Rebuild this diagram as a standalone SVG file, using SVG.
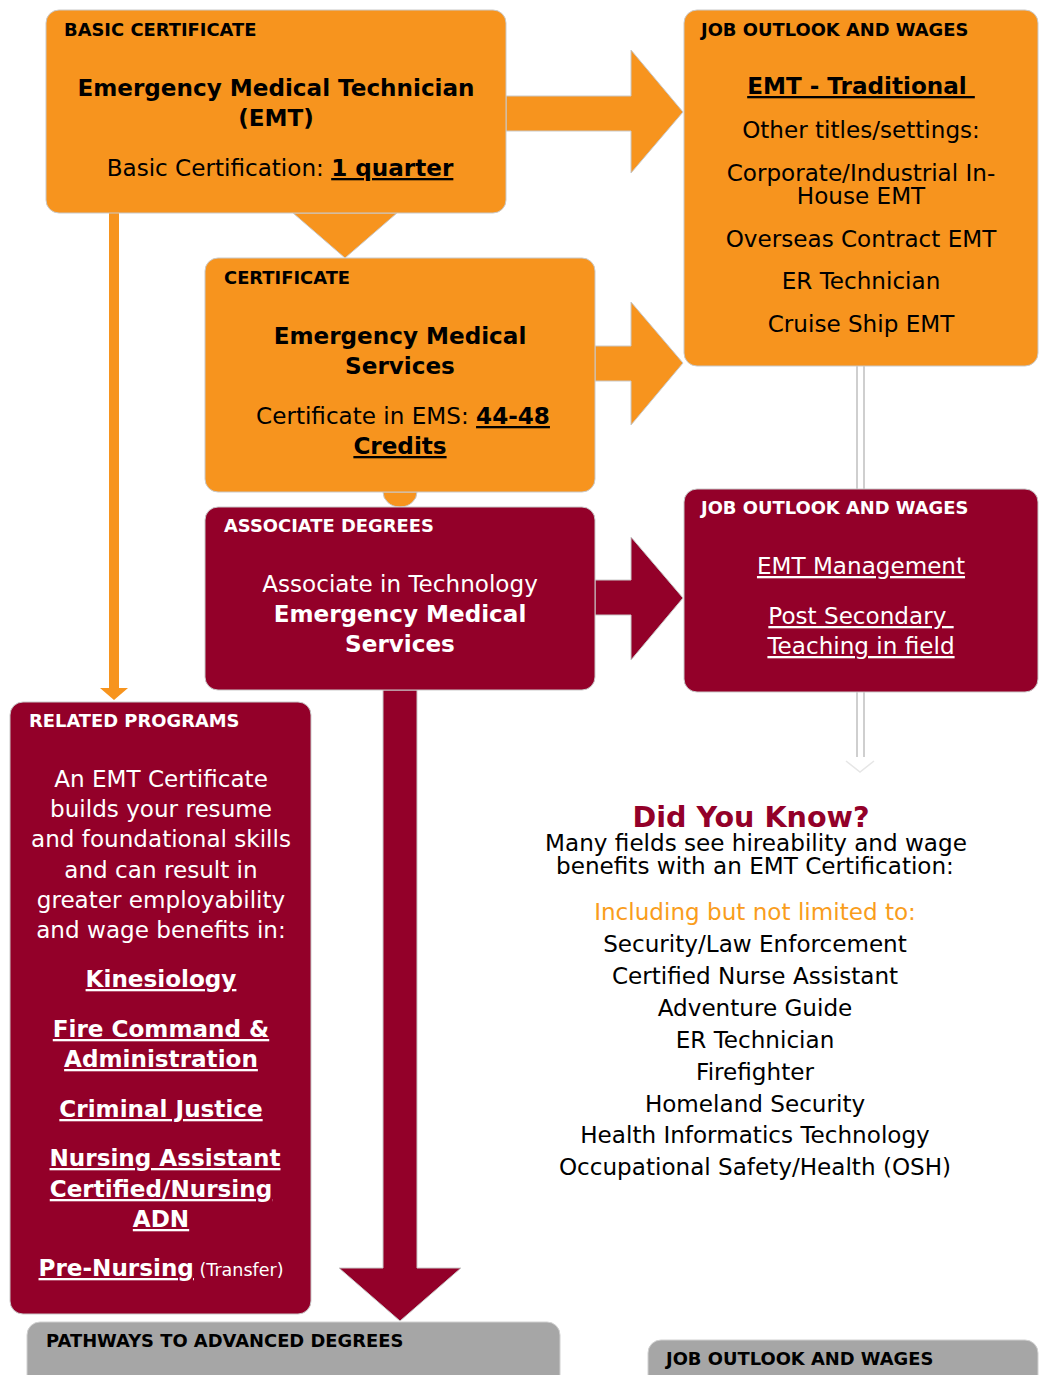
<svg xmlns="http://www.w3.org/2000/svg" width="1043" height="1375" viewBox="0 0 1043 1375">
<style>
text{font-family:"DejaVu Sans","Verdana",sans-serif;}
.hdr{font-size:17.9px;font-weight:bold;}
.t{font-size:23.1px;text-anchor:middle;}
.b{font-weight:bold;}
.u{text-decoration:underline;}
.blk{fill:#000;}
.wht{fill:#fff;}
.or{fill:#F7941E;stroke:#c9c9c9;stroke-width:1;}
.mr{fill:#930029;stroke:#c9c9c9;stroke-width:1;}
.gr{fill:#A6A6A6;stroke:#d0d0d0;stroke-width:1;}
.dl{stroke:#cfcfcf;stroke-width:2;fill:none;}
</style>
<rect width="1043" height="1375" fill="#fff"/>
<g id="connectors">
  <polygon class="or" points="506,96 631,96 631,50 683,112 631,173 631,131 506,131"/>
  <polygon class="or" points="293,213 397,213 345,258"/>
  <polygon class="or" points="595,346 631,346 631,302 683,363 631,425 631,381 595,381"/>
  <path class="or" d="M383,492 L417,492 A17,15 0 0 1 383,492 Z" stroke="none"/>
  <polygon class="mr" points="595,580 631,580 631,537 683,598 631,660 631,615 595,615"/>
  <polygon class="mr" points="383,690 417,690 417,1268 461,1268 400,1321 339,1268 383,1268"/>
  <polygon fill="#F7941E" points="109,213 119,213 119,688 128,688 114,700 100,688 109,688"/>
  <line class="dl" x1="857" y1="366" x2="857" y2="489"/>
  <line class="dl" x1="864" y1="366" x2="864" y2="489"/>
  <line class="dl" x1="857" y1="692" x2="857" y2="757"/>
  <line class="dl" x1="864" y1="692" x2="864" y2="757"/>
  <polyline points="846,761 860,772 874,761" fill="none" stroke="#e6e6e6" stroke-width="1.5"/>
</g>
<g id="basic-certificate">
  <rect class="or" x="46" y="10" width="460" height="203" rx="13"/>
  <text class="hdr blk" x="64" y="36">BASIC CERTIFICATE</text>
  <text class="t b blk" x="276" y="96">Emergency Medical Technician</text>
  <text class="t b blk" x="276" y="126">(EMT)</text>
  <text class="t blk" x="280" y="176">Basic Certification: <tspan class="b u">1 quarter</tspan></text>
</g>
<g id="certificate">
  <rect class="or" x="205" y="258" width="390" height="234" rx="13"/>
  <text class="hdr blk" x="224" y="284">CERTIFICATE</text>
  <text class="t b blk" x="400" y="344">Emergency Medical</text>
  <text class="t b blk" x="400" y="374">Services</text>
  <text class="t blk" x="403" y="424">Certificate in EMS: <tspan class="b u">44-48</tspan></text>
  <text class="t b u blk" x="400" y="454">Credits</text>
</g>
<g id="job-outlook-1">
  <rect class="or" x="684" y="10" width="354" height="356" rx="13"/>
  <text class="hdr blk" x="701" y="36">JOB OUTLOOK AND WAGES</text>
  <text class="t b u blk" x="861" y="94" xml:space="preserve">EMT - Traditional </text>
  <text class="t blk" x="861" y="138">Other titles/settings:</text>
  <text class="t blk" x="861" y="181">Corporate/Industrial In-</text>
  <text class="t blk" x="861" y="204">House EMT</text>
  <text class="t blk" x="861" y="247">Overseas Contract EMT</text>
  <text class="t blk" x="861" y="289">ER Technician</text>
  <text class="t blk" x="861" y="332">Cruise Ship EMT</text>
</g>
<g id="job-outlook-2">
  <rect class="mr" x="684" y="489" width="354" height="203" rx="13"/>
  <text class="hdr wht" x="701" y="514">JOB OUTLOOK AND WAGES</text>
  <text class="t u wht" x="861" y="574">EMT Management</text>
  <text class="t u wht" x="861" y="624" xml:space="preserve">Post Secondary </text>
  <text class="t u wht" x="861" y="654">Teaching in field</text>
</g>
<g id="associate-degrees">
  <rect class="mr" x="205" y="507" width="390" height="183" rx="13"/>
  <text class="hdr wht" x="224" y="532">ASSOCIATE DEGREES</text>
  <text class="t wht" x="400" y="592">Associate in Technology</text>
  <text class="t b wht" x="400" y="622">Emergency Medical</text>
  <text class="t b wht" x="400" y="652">Services</text>
</g>
<g id="related-programs">
  <rect class="mr" x="10" y="702" width="301" height="612" rx="13"/>
  <text class="hdr wht" x="29" y="727">RELATED PROGRAMS</text>
  <text class="t wht" x="161" y="787">An EMT Certificate</text>
  <text class="t wht" x="161" y="817">builds your resume</text>
  <text class="t wht" x="161" y="847">and foundational skills</text>
  <text class="t wht" x="161" y="878">and can result in</text>
  <text class="t wht" x="161" y="908">greater employability</text>
  <text class="t wht" x="161" y="938">and wage benefits in:</text>
  <text class="t b u wht" x="161" y="987">Kinesiology</text>
  <text class="t b u wht" x="161" y="1037">Fire Command &amp;</text>
  <text class="t b u wht" x="161" y="1067">Administration</text>
  <text class="t b u wht" x="161" y="1117">Criminal Justice</text>
  <text class="t b u wht" x="165" y="1166">Nursing Assistant</text>
  <text class="t b u wht" x="161" y="1197">Certified/Nursing</text>
  <text class="t b u wht" x="161" y="1227">ADN</text>
  <text class="t wht" x="161" y="1276"><tspan class="b u">Pre-Nursing</tspan><tspan font-size="17.5"> (Transfer)</tspan></text>
</g>
<g id="did-you-know">
  <text x="751" y="827" font-size="28.6" font-weight="bold" fill="#930029" text-anchor="middle">Did You Know?</text>
  <text class="t blk" x="756" y="851">Many fields see hireability and wage</text>
  <text class="t blk" x="755" y="874">benefits with an EMT Certification:</text>
  <text class="t" x="755" y="920" fill="#F99D1C">Including but not limited to:</text>
  <text class="t blk" x="755" y="952">Security/Law Enforcement</text>
  <text class="t blk" x="755" y="984">Certified Nurse Assistant</text>
  <text class="t blk" x="755" y="1016">Adventure Guide</text>
  <text class="t blk" x="755" y="1048">ER Technician</text>
  <text class="t blk" x="755" y="1080">Firefighter</text>
  <text class="t blk" x="755" y="1112">Homeland Security</text>
  <text class="t blk" x="755" y="1143">Health Informatics Technology</text>
  <text class="t blk" x="755" y="1175">Occupational Safety/Health (OSH)</text>
</g>
<g id="pathways">
  <rect class="gr" x="27" y="1322" width="533" height="80" rx="13"/>
  <text class="hdr blk" x="46" y="1347">PATHWAYS TO ADVANCED DEGREES</text>
</g>
<g id="job-outlook-3">
  <rect class="gr" x="648" y="1340" width="390" height="80" rx="13"/>
  <text class="hdr blk" x="666" y="1365">JOB OUTLOOK AND WAGES</text>
</g>
</svg>
